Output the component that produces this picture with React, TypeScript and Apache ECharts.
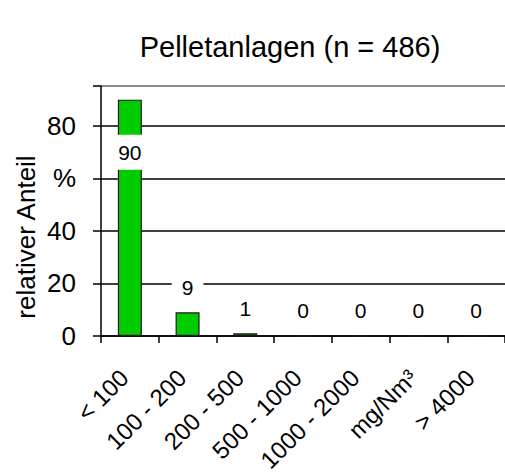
import React, { useEffect, useRef } from "react";
import * as echarts from "echarts";

const titleText = "Pelletanlagen (n = 486)";
const yAxisName = "relativer Anteil";
const categories = ["< 100", "100 - 200", "200 - 500", "500 - 1000", "1000 - 2000", "mg/Nm³", "> 4000"];
const shares = [90, 9, 1, 0, 0, 0, 0];
const yTicks = [0, 20, 40, 60, 80];
const yTickLabels = ["0", "20", "40", "%", "80"];

const FONT = "'Liberation Sans', Arial, Helvetica, sans-serif";

export default function App() {
  const ref = useRef<HTMLDivElement>(null);
  useEffect(() => {
    document.body.style.margin = "0";
    const chart = echarts.init(ref.current!, null, { renderer: "svg" });
    const data = shares.map((v, i) => {
      if (i === 0) {
        return {
          value: v,
          label: { position: "insideTop", distance: 35 },
        };
      }
      return { value: v };
    });
    chart.setOption({
      animation: false,
      textStyle: { fontFamily: FONT },
      grid: { left: 101, top: 86, bottom: 140, width: 406, containLabel: false },
      graphic: [
        {
          type: "text",
          x: 290,
          y: 47,
          style: {
            text: titleText,
            font: `29px ${FONT}`,
            fill: "#000",
            textAlign: "center",
            textVerticalAlign: "middle",
          },
        },
        {
          type: "text",
          x: 26,
          y: 237,
          rotation: Math.PI / 2,
          style: {
            text: yAxisName,
            font: `26px ${FONT}`,
            fill: "#000",
            textAlign: "center",
            textVerticalAlign: "middle",
          },
        },
      ],
      xAxis: {
        type: "category",
        data: categories,
        axisLine: { show: true, lineStyle: { color: "#000", width: 1.5 } },
        axisTick: { show: true, length: 7, lineStyle: { color: "#000", width: 1.5 } },
        axisLabel: {
          rotate: 45,
          interval: 0,
          margin: 32,
          padding: [0, 8, 0, 0],
          fontSize: 24,
          color: "#000",
          fontFamily: FONT,
        },
      },
      yAxis: {
        type: "value",
        min: 0,
        max: 95.2,
        interval: 20,
        axisLine: { show: true, lineStyle: { color: "#000", width: 1.5 } },
        axisTick: { show: true, length: 8, lineStyle: { color: "#000", width: 1.5 } },
        axisLabel: {
          margin: 25,
          fontSize: 26,
          color: "#000",
          fontFamily: FONT,
          formatter: (v: number) => {
            const idx = yTicks.indexOf(v);
            return idx >= 0 ? yTickLabels[idx] : "";
          },
        },
        splitLine: {
          show: true,
          lineStyle: { color: ["#000", "#000", "#000", "#000", "#000", "#666"], width: 1.5 },
        },
      },
      series: [
        {
          type: "bar",
          data,
          barWidth: 24,
          itemStyle: { color: "#00cc00", borderColor: "#1a1a1a", borderWidth: 1.2 },
          label: {
            show: true,
            position: "top",
            distance: 7,
            fontSize: 21,
            color: "#000",
            fontFamily: FONT,
            backgroundColor: "#fff",
            padding: [7, 10],
          },
        },
      ],
    });
    return () => chart.dispose();
  }, []);
  return <div ref={ref} style={{ width: 505, height: 476 }} />;
}
